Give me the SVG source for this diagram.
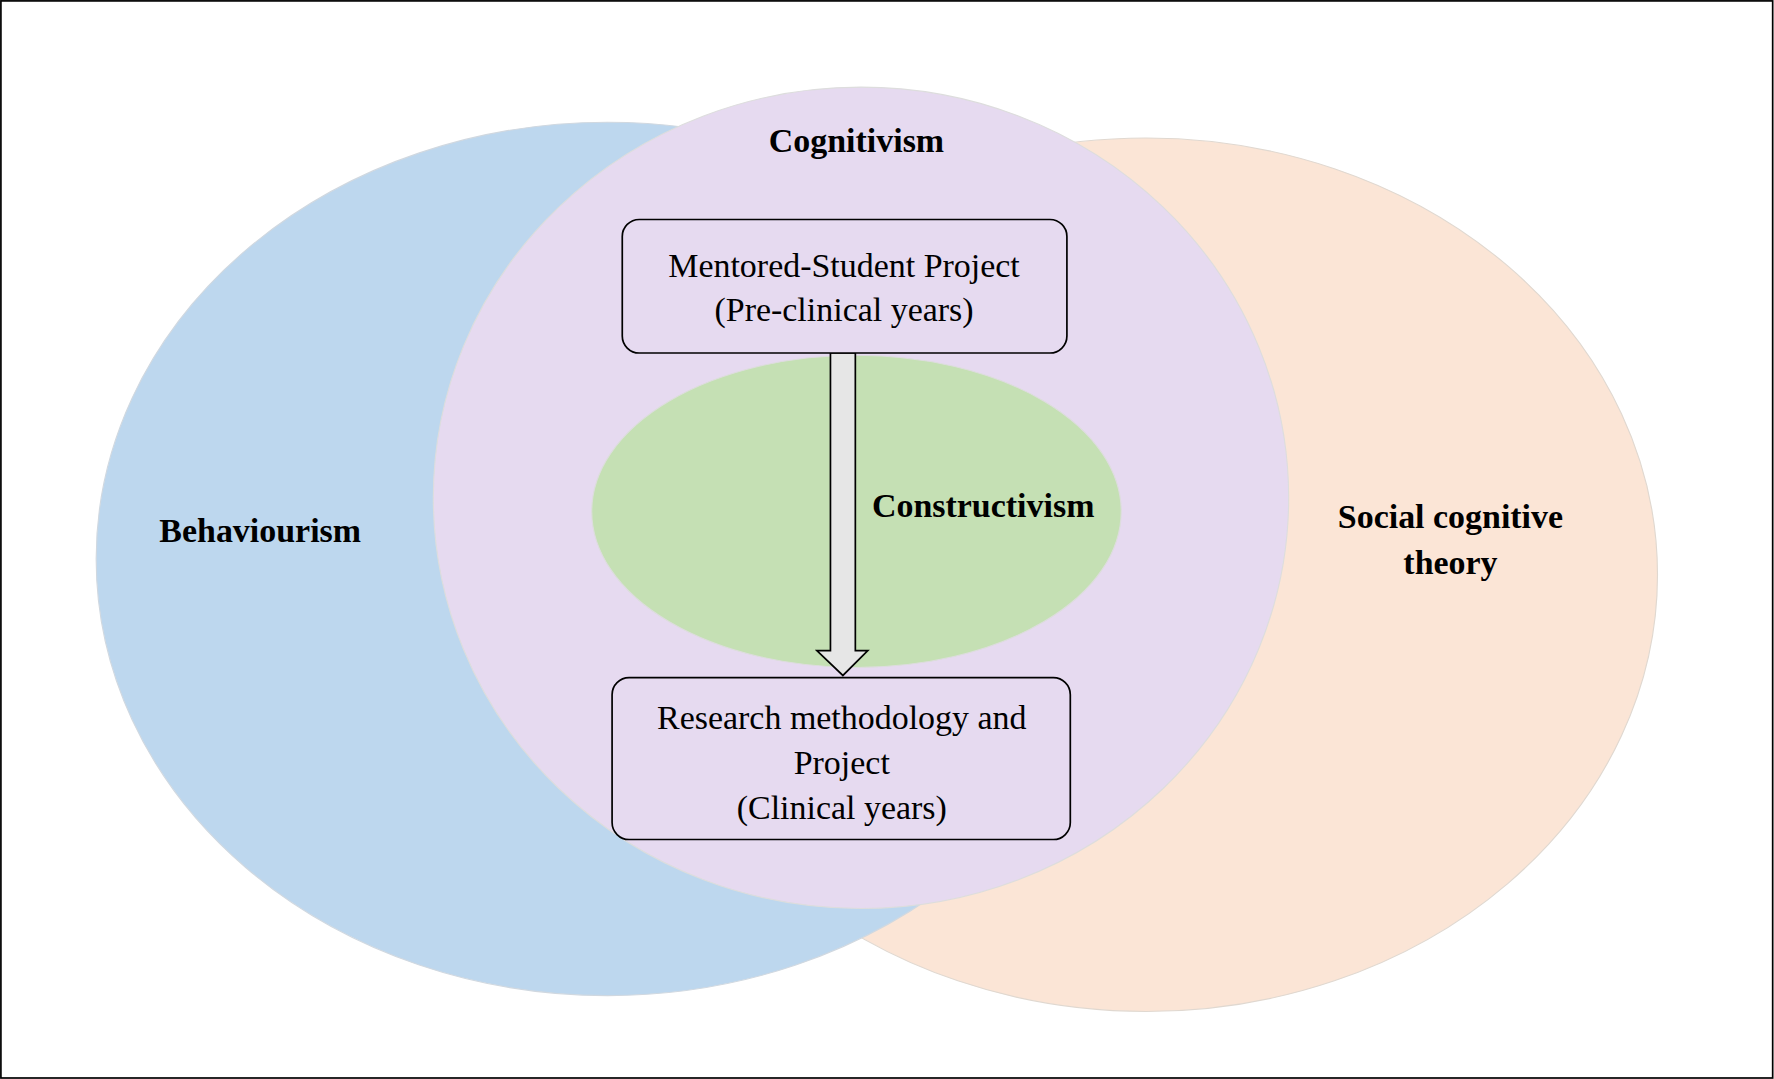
<svg xmlns="http://www.w3.org/2000/svg" width="1774" height="1079" viewBox="0 0 1774 1079">
<style>
.t{font-family:"Liberation Serif","Times New Roman",serif;font-size:30px;text-anchor:middle;fill:#000}
.b{font-weight:bold}
.box{fill:#e6daf0;stroke:#000;stroke-width:1.5}
</style>
<rect width="1774" height="1079" fill="#fff"/>
<g transform="scale(1.1314)">
<rect x="0.8" y="0.8" width="1566" height="952" fill="none" stroke="#000" stroke-width="1.5"/>
<g id="social"><ellipse cx="1013" cy="508" rx="452" ry="386" fill="#fbe5d6" stroke="#e0d8d0" stroke-width="1"/>
<text class="t b" x="1282" y="467">Social cognitive</text><text class="t b" x="1282" y="507">theory</text></g>
<g id="behaviourism"><ellipse cx="537" cy="494" rx="452" ry="386" fill="#bdd7ee" stroke="#d0d8e0" stroke-width="1"/>
<text class="t b" x="230" y="479">Behaviourism</text></g>
<g id="cognitivism"><ellipse cx="761" cy="440" rx="378" ry="363" fill="#e6daf0" stroke="#ddd" stroke-width="1"/>
<text class="t b" x="757" y="134">Cognitivism</text></g>
<g id="constructivism"><ellipse cx="757" cy="452" rx="234" ry="138" fill="#c5e0b4" stroke="#ddd" stroke-width="1"/>
<text class="t b" x="869" y="457">Constructivism</text></g>
<g id="connectors"><path d="M734 312 V575 H722 L745 597 L767 575 H756 V312 Z" fill="#e6e6e6" stroke="#000" stroke-width="1.5"/></g>
<g id="box1"><rect class="box" x="550" y="194" width="393" height="118" rx="15"/>
<text class="t" x="746" y="245">Mentored-Student Project</text><text class="t" x="746" y="284">(Pre-clinical years)</text></g>
<g id="box2"><rect class="box" x="541" y="599" width="405" height="143" rx="15"/>
<text class="t" x="744" y="644">Research methodology and</text><text class="t" x="744" y="684">Project</text><text class="t" x="744" y="724">(Clinical years)</text></g>
</g>
</svg>
